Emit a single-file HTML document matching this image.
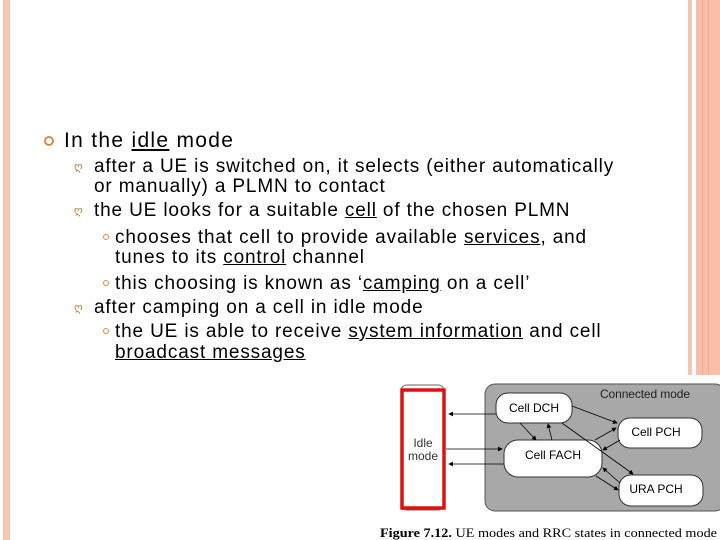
<!DOCTYPE html>
<html><head><style>
body{margin:0;width:720px;height:540px;background:#fff;position:relative;overflow:hidden;font-family:"Liberation Sans",sans-serif;color:#000}
.t{position:absolute;white-space:nowrap;font-size:19px;line-height:20px;letter-spacing:0.85px}
u{text-decoration:underline}
.b1{position:absolute;width:6px;height:6px;border:2px solid #d9894a;border-radius:50%}
.b3{position:absolute;width:4px;height:4px;border:1.5px solid #d9894a;border-radius:50%}
.b2{position:absolute;font-size:11px;color:#c47a3a;font-family:"DejaVu Sans",sans-serif}
</style></head><body>
<div style="position:absolute;left:3px;top:0;width:7px;height:540px;background:#f7c6b3"></div>
<div style="position:absolute;left:688px;top:0;width:4px;height:375px;background:#f7c6b3"></div>
<div style="position:absolute;left:696px;top:0;width:24px;height:375px;background:#f8c0a8"></div>
<div style="position:absolute;left:702px;top:0;width:1px;height:375px;background:#f0a890"></div>
<div style="position:absolute;left:708px;top:0;width:1px;height:375px;background:#f0a890"></div>

<div class="b1" style="left:44px;top:136px"></div>
<div class="t" style="left:64px;top:129px;font-size:21px;line-height:24px;letter-spacing:1.3px">In the <u>idle</u> mode</div>

<div class="b2" style="left:74px;top:160px">ღ</div>
<div class="t" style="left:94px;top:157px">after a UE is switched on, it selects (either automatically</div>
<div class="t" style="left:94px;top:177px">or manually) a PLMN to contact</div>
<div class="b2" style="left:74px;top:204px">ღ</div>
<div class="t" style="left:94px;top:201px">the UE looks for a suitable <u>cell</u> of the chosen PLMN</div>
<div class="b3" style="left:103px;top:234px"></div>
<div class="t" style="left:115px;top:228px">chooses that cell to provide available <u>services</u>, and</div>
<div class="t" style="left:115px;top:248px">tunes to its <u>control</u> channel</div>
<div class="b3" style="left:103px;top:280px"></div>
<div class="t" style="left:115px;top:274px">this choosing is known as ‘<u>camping</u> on a cell’</div>
<div class="b2" style="left:74px;top:301px">ღ</div>
<div class="t" style="left:94px;top:298px">after camping on a cell in idle mode</div>
<div class="b3" style="left:103px;top:328px"></div>
<div class="t" style="left:115px;top:322px">the UE is able to receive <u>system information</u> and cell</div>
<div class="t" style="left:115px;top:343px"><u>broadcast messages</u></div>

<svg style="position:absolute;left:0;top:0" width="720" height="540">
<defs><marker id="a" markerWidth="6" markerHeight="6" refX="5" refY="3" orient="auto"><path d="M0,0L6,3L0,6z" fill="#000"/></marker></defs>
<rect x="485" y="384" width="240" height="127" rx="10" fill="#a8a8a8" stroke="#555"/>
<rect x="401" y="385" width="43" height="125" rx="6" fill="#fff" stroke="#666"/>
<rect x="402" y="390" width="42" height="118" fill="none" stroke="#e01010" stroke-width="3.5"/>
<text x="423" y="447" font-size="12" text-anchor="middle" fill="#333" font-family="Liberation Sans">Idle</text>
<text x="423" y="460" font-size="12" text-anchor="middle" fill="#333" font-family="Liberation Sans">mode</text>
<text x="600" y="398" font-size="12" fill="#222" font-family="Liberation Sans" textLength="90">Connected mode</text>
<rect x="496" y="393" width="76" height="30" rx="12" fill="#fff" stroke="#333"/>
<text x="534" y="412" font-size="12" text-anchor="middle" font-family="Liberation Sans">Cell DCH</text>
<rect x="618" y="418" width="84" height="30" rx="12" fill="#fff" stroke="#333"/>
<text x="656" y="436" font-size="12" text-anchor="middle" font-family="Liberation Sans">Cell PCH</text>
<rect x="504" y="440" width="98" height="37" rx="14" fill="#fff" stroke="#333"/>
<text x="553" y="459" font-size="12" text-anchor="middle" font-family="Liberation Sans">Cell FACH</text>
<rect x="619" y="475" width="84" height="31" rx="12" fill="#fff" stroke="#333"/>
<text x="656" y="493" font-size="12" text-anchor="middle" font-family="Liberation Sans">URA PCH</text>
<g stroke="#000" stroke-width="0.8" marker-end="url(#a)">
<line x1="496" y1="414" x2="449" y2="414"/>
<line x1="446" y1="449" x2="502" y2="449"/>
<line x1="504" y1="464" x2="449" y2="464"/>
<line x1="520" y1="423" x2="536" y2="440"/>
<line x1="552" y1="440" x2="548" y2="424"/>
<line x1="572" y1="406" x2="617" y2="423"/>
<line x1="562" y1="423" x2="633" y2="474"/>
<line x1="595" y1="440" x2="616" y2="428"/>
<line x1="620" y1="440" x2="603" y2="450"/>
<line x1="596" y1="476" x2="618" y2="490"/>
<line x1="620" y1="483" x2="603" y2="468"/>
</g>
<text x="380" y="537" font-size="13" font-family="Liberation Serif" textLength="337" lengthAdjust="spacingAndGlyphs"><tspan font-weight="bold">Figure 7.12.</tspan> UE modes and RRC states in connected mode</text>
</svg>
</body></html>
